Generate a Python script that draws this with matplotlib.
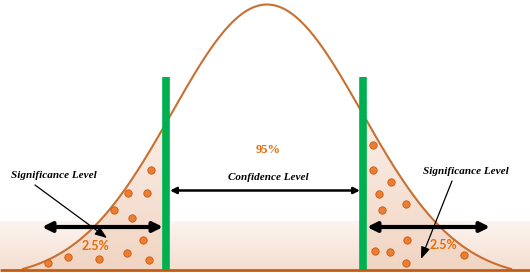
import numpy as np
import matplotlib
matplotlib.use("Agg")
import matplotlib.pyplot as plt
from matplotlib.patches import Polygon, FancyArrowPatch
from matplotlib.colors import LinearSegmentedColormap

# curve (pixel-like coordinates, y grows downward)
mu = 267
sigma = 95
peak_h = 265
baseline = 269.5
x_start, x_end = 23, 511
tail_cut = 0.035

# critical values (green lines)
crit_left, crit_right = 166, 363
crit_top = 77

# dots in the tails
left_dots_x = [151, 128, 147, 114, 132, 143, 127, 149, 99, 68, 48]
left_dots_y = [170, 193, 193, 210, 218, 240, 253, 260, 259, 257, 263]
right_dots_x = [373, 373, 391, 379, 382, 406, 407, 375, 390, 406, 464]
right_dots_y = [145, 170, 182, 194, 210, 204, 240, 251, 252, 263, 255]

labels = {
    "sig": "Significance Level",
    "conf": "Confidence Level",
    "mid": "95%",
    "tail": "2.5%",
}

orange = "#e46c0a"
curve_col = "#c8702f"


def curve_y(x):
    r = np.exp(-((x - mu) ** 2) / (2 * sigma ** 2))
    h = peak_h * np.clip((r - tail_cut) / (1 - tail_cut), 0, None)
    return baseline - h


fig = plt.figure(figsize=(5.30, 2.73), dpi=100)
ax = fig.add_axes([0, 0, 1, 1])
ax.set_xlim(0, 530)
ax.set_ylim(273, 0)
ax.axis("off")

# bottom band with soft gradient
band_cmap = LinearSegmentedColormap.from_list("band", ["#fcf4f0", "#f5dfd1"])
grad = np.linspace(0, 1, 100).reshape(-1, 1)
ax.imshow(grad, cmap=band_cmap, extent=[0, 530, baseline, 222], origin="upper",
          aspect="auto", zorder=1)

# tails
tail_cmap = LinearSegmentedColormap.from_list("tail", ["#fbf0ea", "#f1d5c3"])
for xa, xb in [(x_start, crit_left), (crit_right, x_end)]:
    xs = np.linspace(xa, xb, 200)
    pts = np.column_stack([np.r_[xs, xb, xa], np.r_[curve_y(xs), baseline, baseline]])
    poly = Polygon(pts, closed=True, facecolor="none", edgecolor="none")
    ax.add_patch(poly)
    im = ax.imshow(grad, cmap=tail_cmap, extent=[xa, xb, baseline, 110],
                   origin="upper", aspect="auto", zorder=2)
    im.set_clip_path(poly)

# curve + baseline
xs = np.linspace(x_start, x_end, 600)
ax.plot(xs, curve_y(xs), color=curve_col, lw=1.5, zorder=3)
ax.plot([0, 530], [baseline, baseline], color="#c55a11", lw=2, zorder=4,
        solid_capstyle="butt")

# green bars
for xc in [crit_left, crit_right]:
    ax.plot([xc, xc], [crit_top, baseline], color="#00b050", lw=5.5,
            solid_capstyle="butt", zorder=5)

# dots
ax.scatter(left_dots_x, left_dots_y, s=28, color="#ed7d31", edgecolor="#c55a11",
           linewidth=0.6, zorder=6)
ax.scatter(right_dots_x, right_dots_y, s=28, color="#ed7d31", edgecolor="#c55a11",
           linewidth=0.6, zorder=6)


def arrow(p0, p1, style, lw, ms):
    ax.add_patch(FancyArrowPatch(p0, p1, arrowstyle=style, mutation_scale=ms,
                                 lw=lw, color="black", zorder=7,
                                 shrinkA=0, shrinkB=0))


arrow((42, 227), (163, 227), "<|-|>", 3, 14)
arrow((367, 227), (490, 227), "<|-|>", 3, 14)
arrow((170, 190.5), (360, 190.5), "<|-|>", 1.8, 9)
arrow((35, 185), (107, 238), "-|>,head_width=0.3,head_length=0.8", 0.9, 9)
arrow((452, 181), (421, 259), "-|>,head_width=0.3,head_length=0.8", 0.9, 9)

serif = ["Liberation Serif", "DejaVu Serif"]
ax.text(54, 175, labels["sig"], family=serif, style="italic", weight="bold",
        fontsize=8, ha="center", va="center", zorder=8)
ax.text(466, 172, labels["sig"], family=serif, style="italic", weight="bold",
        fontsize=8, ha="center", va="center", zorder=8)
ax.text(268, 177, labels["conf"], family=serif, style="italic", weight="bold",
        fontsize=8, ha="center", va="center", zorder=8)
ax.text(268, 150, labels["mid"], family=serif, weight="bold", color=orange,
        fontsize=9, ha="center", va="center", zorder=8)
ax.text(95, 246, labels["tail"], family="Lato", weight="bold", color=orange,
        fontsize=9, ha="center", va="center", zorder=8)
ax.text(443, 245, labels["tail"], family="Lato", weight="bold", color=orange,
        fontsize=9, ha="center", va="center", zorder=8)

fig.savefig("out.png", dpi=100)
